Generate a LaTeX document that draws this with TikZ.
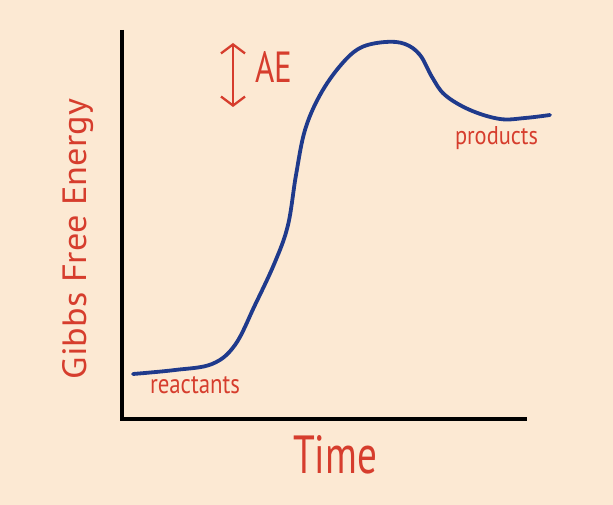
\documentclass[tikz,border=0pt]{standalone}
\usepackage{fontspec}
\setmainfont{PT Sans}
\usetikzlibrary{arrows.meta}
\definecolor{bg}{HTML}{FCE9D3}
\definecolor{hred}{HTML}{D63D2D}
\definecolor{hblue}{HTML}{1F3A8C}
\tikzset{
  hlabel/.style={text=hred, inner sep=0pt, outer sep=0pt},
  axisline/.style={line width=3.2pt, black},
  curveline/.style={line width=3.8pt, hblue, line cap=round, line join=round},
  dearrow/.style={line width=2.3pt, hred, line cap=round, {Straight Barb[length=9pt,width=24pt,line width=2.3pt]}-{Straight Barb[length=9pt,width=24pt,line width=2.3pt]}}
}
\begin{document}
\begin{tikzpicture}[x=1pt,y=-1pt]
\fill[bg] (0,0) rectangle (613,505);
\useasboundingbox (0,0) rectangle (613,505);
% axes
\coordinate (ytop) at (122,30);
\coordinate (orig) at (122,419);
\coordinate (xend) at (527,419);
\draw[axisline] (ytop) -- (orig) -- (xend);
% curve
\draw[curveline] plot[smooth, tension=0.6] coordinates {
(133,374) (175,370) (212,364) (235,345) (255,305) (275,262) (288,225)
(296,175) (305,130) (320,95) (340,66) (360,48) (385,42) (405,44) (420,55)
(432,77) (445,95) (470,110) (500,119) (525,118) (550,115)};
% Delta E arrow
\coordinate (dtop) at (233,43);
\coordinate (dbot) at (233,107);
\draw[dearrow] (dtop) -- (dbot);
\node[hlabel, anchor=base west] (ae) at (255,83) {\resizebox{37pt}{31pt}{AE}};
% labels
\node[hlabel, anchor=base west] (react) at (150,393) {\resizebox{90pt}{17pt}{reactants}};
\node[hlabel, anchor=base west] (prod) at (455,145) {\resizebox{83pt}{18pt}{products}};
\node[hlabel, anchor=base west] (time) at (293,473) {\resizebox{84pt}{38pt}{Time}};
\node[hlabel, anchor=base west, rotate=90] (gibbs) at (86,379) {\resizebox{280pt}{24pt}{Gibbs Free Energy}};
\end{tikzpicture}
\end{document}
